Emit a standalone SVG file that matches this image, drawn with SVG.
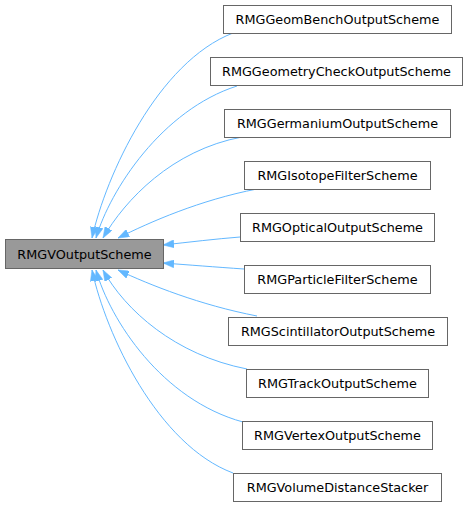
<svg xmlns="http://www.w3.org/2000/svg" width="469" height="506" viewBox="0 0 469 506">
<style>
  .node rect { fill: #ffffff; stroke: #666666; stroke-width: 1; }
  .node.main rect { fill: #999999; }
  .node text { font-family: "DejaVu Sans", sans-serif; font-size: 12.8px; fill: #000000; text-anchor: middle; }
  .edges path { fill: none; stroke: #63b8ff; stroke-width: 1; marker-start: url(#arrow); }
</style>
<defs>
  <marker id="arrow" viewBox="0 0 11 8" refX="11" refY="4" markerWidth="11" markerHeight="8" markerUnits="userSpaceOnUse" orient="auto-start-reverse">
    <path d="M0,0 L11,4 L0,8 z" fill="#63b8ff" stroke="#63b8ff" stroke-width="0.5"/>
  </marker>
</defs>
<rect width="469" height="506" fill="#ffffff"/>
<g class="edges" id="connectors">
  <path d="M92,238 C106,175 158,62 233,33"/>
  <path d="M96,238 C110,190 162,110 237,86"/>
  <path d="M103,238 C125,200 172,150 242,137"/>
  <path d="M118,238 C150,222 200,200 257,189"/>
  <path d="M163,245 C190,242 215,239 240,237"/>
  <path d="M163,263 C190,265 215,267 244,269"/>
  <path d="M118,270 C150,285 200,305 257,316"/>
  <path d="M103,270 C125,310 175,355 247,369"/>
  <path d="M96,270 C110,320 162,400 243,422"/>
  <path d="M92,270 C106,335 158,445 233,473"/>
</g>
<g class="node main" id="RMGVOutputScheme">
  <rect x="5.5" y="239.5" width="158" height="29"/>
  <text x="84.5" y="258.5">RMGVOutputScheme</text>
</g>
<g class="node" id="RMGGeomBenchOutputScheme">
  <rect x="223.5" y="5.5" width="228" height="28"/>
  <text x="337.5" y="24">RMGGeomBenchOutputScheme</text>
</g>
<g class="node" id="RMGGeometryCheckOutputScheme">
  <rect x="210.5" y="57.5" width="252" height="28"/>
  <text x="336.5" y="76">RMGGeometryCheckOutputScheme</text>
</g>
<g class="node" id="RMGGermaniumOutputScheme">
  <rect x="224.5" y="109.5" width="226" height="28"/>
  <text x="337.5" y="128">RMGGermaniumOutputScheme</text>
</g>
<g class="node" id="RMGIsotopeFilterScheme">
  <rect x="244.5" y="161.5" width="186" height="28"/>
  <text x="337.5" y="180">RMGIsotopeFilterScheme</text>
</g>
<g class="node" id="RMGOpticalOutputScheme">
  <rect x="240.5" y="213.5" width="194" height="28"/>
  <text x="337.5" y="232">RMGOpticalOutputScheme</text>
</g>
<g class="node" id="RMGParticleFilterScheme">
  <rect x="244.5" y="265.5" width="186" height="28"/>
  <text x="337.5" y="284">RMGParticleFilterScheme</text>
</g>
<g class="node" id="RMGScintillatorOutputScheme">
  <rect x="228.5" y="317.5" width="219" height="28"/>
  <text x="338" y="336">RMGScintillatorOutputScheme</text>
</g>
<g class="node" id="RMGTrackOutputScheme">
  <rect x="246.5" y="369.5" width="182" height="28"/>
  <text x="337.5" y="388">RMGTrackOutputScheme</text>
</g>
<g class="node" id="RMGVertexOutputScheme">
  <rect x="242.5" y="421.5" width="190" height="28"/>
  <text x="337.5" y="440">RMGVertexOutputScheme</text>
</g>
<g class="node" id="RMGVolumeDistanceStacker">
  <rect x="233.5" y="473.5" width="208" height="28"/>
  <text x="337.5" y="492">RMGVolumeDistanceStacker</text>
</g>
</svg>
